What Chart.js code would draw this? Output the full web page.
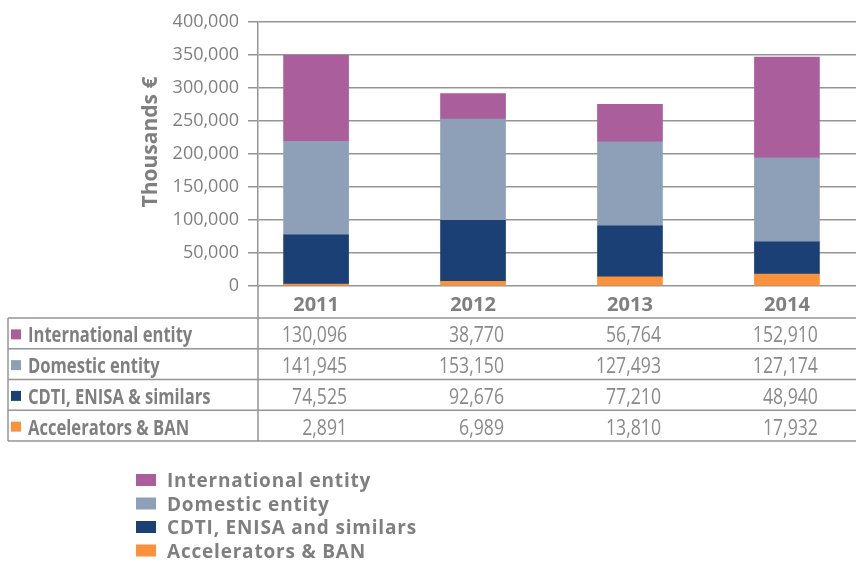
<!DOCTYPE html>
<html>
<head>
<meta charset="utf-8">
<script src="https://cdn.jsdelivr.net/npm/chart.js@4"></script>
<style>
  html, body { margin: 0; padding: 0; background: #fff; overflow: hidden; }
</style>
</head>
<body>
<canvas id="fundingChart" width="856" height="561"></canvas>
<script>
const years = ['2011', '2012', '2013', '2014'];
const tableNames = ['International entity', 'Domestic entity', 'CDTI, ENISA & similars', 'Accelerators & BAN'];
const legendNames = ['International entity', 'Domestic entity', 'CDTI, ENISA and similars', 'Accelerators & BAN'];
const international = [130096, 38770, 56764, 152910];
const domestic = [141945, 153150, 127493, 127174];
const cdti = [74525, 92676, 77210, 48940];
const accelerators = [2891, 6989, 13810, 17932];
const colors = ['#aa5e9c', '#8da0b8', '#1b4075', '#f9923b'];

const rows = [international, domestic, cdti, accelerators];
const lineGray = '#959595';
const textGray = '#7f7f7f';
const numGray = '#8a8a8a';

const fmt = v => v.toLocaleString('en-US');

function drawText(ctx, text, x, y, font, color, align, sx) {
    ctx.save();
    ctx.font = font;
    ctx.fillStyle = color;
    ctx.textAlign = align;
    ctx.textBaseline = 'middle';
    ctx.translate(x, y);
    ctx.scale(sx, 1);
    ctx.fillText(text, 0, 0);
    ctx.restore();
}

// data table under the axis, y title and the legend block
const extras = {
    id: 'extras',
    afterDraw(chart) {
        const ctx = chart.ctx;
        const area = chart.chartArea;
        const xs = chart.scales.x;
        const tTop = 318, tBottom = 441, tLeft = 8, right = chart.width;
        const rowH = (tBottom - tTop) / rows.length;

        ctx.save();
        ctx.strokeStyle = lineGray;
        ctx.lineWidth = 1.5;
        ctx.beginPath();
        for (let r = 0; r <= rows.length; r++) {
            const y = tTop + rowH * r;
            ctx.moveTo(tLeft, y);
            ctx.lineTo(right, y);
        }
        ctx.moveTo(area.left, area.bottom);
        ctx.lineTo(area.left, tBottom);
        ctx.moveTo(tLeft, tTop);
        ctx.lineTo(tLeft, tBottom);
        ctx.stroke();
        ctx.restore();

        rows.forEach((vals, r) => {
            const yc = tTop + rowH * (r + 0.5);
            ctx.fillStyle = colors[r];
            ctx.fillRect(11, yc - 4, 10, 10);
            drawText(ctx, tableNames[r], 28, yc + 3, 'bold 21px "Open Sans"', textGray, 'left', 0.79);
            vals.forEach((v, i) => {
                drawText(ctx, fmt(v), xs.getPixelForValue(i) + 31, yc + 3, '21px "Open Sans"', numGray, 'right', 0.84);
            });
        });

        // rotated axis title
        ctx.save();
        ctx.translate(151, 142);
        ctx.rotate(-Math.PI / 2);
        drawText(ctx, 'Thousands €', 0, 0, 'bold 21px "Open Sans"', textGray, 'center', 1);
        ctx.restore();

        // legend
        legendNames.forEach((name, k) => {
            const yc = 481 + 23.5 * k;
            ctx.fillStyle = colors[k];
            ctx.fillRect(136, yc - 7, 20, 12);
            ctx.save();
            ctx.letterSpacing = '0.8px';
            drawText(ctx, name, 167, yc + 1, 'bold 19px "Open Sans"', textGray, 'left', 1);
            ctx.restore();
        });
    }
};

const datasets = rows.map((vals, k) => ({
    label: tableNames[k],
    data: vals.map((v, i) => ({ x: i, y: v })),
    backgroundColor: colors[k],
    barThickness: 65
})).reverse();

new Chart(document.getElementById('fundingChart'), {
    type: 'bar',
    data: { datasets: datasets },
    options: {
        responsive: false,
        animation: false,
        layout: { padding: { top: 22, bottom: 245, left: 0, right: 0 } },
        plugins: {
            legend: { display: false },
            tooltip: { enabled: false }
        },
        scales: {
            x: {
                type: 'linear',
                stacked: true,
                min: -0.37,
                max: 3.44,
                offset: false,
                grid: { display: false, drawTicks: false },
                border: { display: false },
                ticks: {
                    stepSize: 1,
                    includeBounds: false,
                    autoSkip: false,
                    maxRotation: 0,
                    padding: 7,
                    color: textGray,
                    font: { family: 'Open Sans', size: 20, weight: 'bold' },
                    callback: v => years[v] ?? ''
                },
                afterFit: s => { s.height = 30; }
            },
            y: {
                stacked: true,
                min: 0,
                max: 400000,
                ticks: {
                    stepSize: 50000,
                    padding: 9,
                    color: textGray,
                    font: { family: 'Open Sans', size: 18 },
                    callback: v => fmt(v)
                },
                grid: { color: lineGray, lineWidth: 1.5, tickLength: 10 },
                border: { color: lineGray, width: 1.5 },
                afterFit: s => { s.width = 258; }
            }
        }
    },
    plugins: [extras]
});
</script>
</body>
</html>
